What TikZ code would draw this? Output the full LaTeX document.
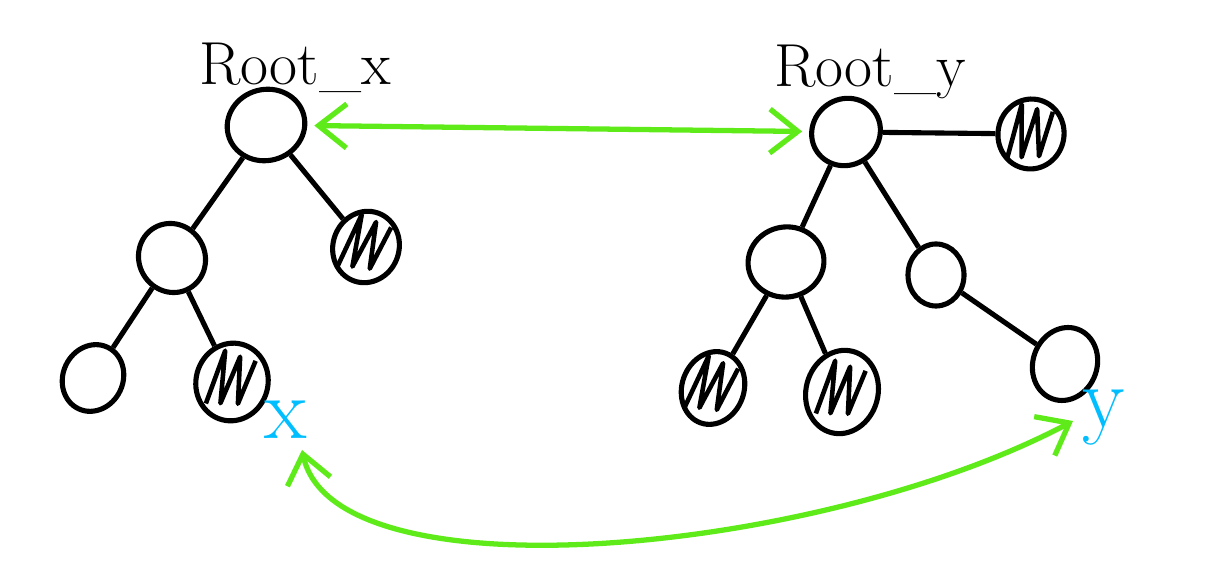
\documentclass[tikz,border=0pt]{standalone}
\usepackage{tikz}
\usetikzlibrary{calc,shapes.geometric,arrows.meta}
\definecolor{pengreen}{RGB}{95,235,25}
\definecolor{penblue}{RGB}{0,190,255}
\tikzset{
	knot/.style={draw, ellipse, line width=1.45pt, inner sep=0pt, minimum width=0.68cm, minimum height=0.68cm},
	scribble/.style={knot, path picture={
			\draw[line width=1.3pt, line join=round] ($(path picture bounding box.center)+(-0.19cm,-0.3cm)$) -- ++(0.05cm,0.56cm) -- ++(0.09cm,-0.52cm) -- ++(0.07cm,0.5cm) -- ++(0.1cm,-0.46cm) -- ++(0.06cm,0.46cm);}},
	branch/.style={line width=1.45pt},
	link/.style={color=pengreen, line width=1.5pt, line cap=round, {Straight Barb[length=2.8mm,width=4.4mm]}-{Straight Barb[length=2.8mm,width=4.4mm]}},
}

\begin{document}
\begin{tikzpicture}[x=0.01cm, y=-0.01cm]
			%%%%% START %%%%%
			\useasboundingbox (0,0) rectangle (1210,580);
			
			% left tree
			\node[knot, minimum width=0.78cm, minimum height=0.71cm, rotate=15] (rootx) at (266,125) {};
			\node[knot, minimum width=0.66cm, minimum height=0.7cm, rotate=30] (xmid) at (172,258) {};
			\node[knot, minimum width=0.6cm, minimum height=0.68cm, rotate=-25] (xll) at (93,378) {};
			\node[scribble, minimum width=0.72cm, minimum height=0.78cm, rotate=-15] (xlm) at (232,382) {};
			\node[scribble, minimum width=0.66cm, minimum height=0.72cm, rotate=-20] (xright) at (366,247) {};
			
			\node[font=\LARGE] (labrootx) at (295,68) {Root\_x};
			\node[font=\Huge, text=penblue] (labx) at (286,420) {x};
			
			\draw[branch] (rootx) -- (xmid);
			\draw[branch] (rootx) -- (xright);
			\draw[branch] (xmid) -- (xll);
			\draw[branch] (xmid) -- (xlm);
			
			% right tree
			\node[knot, minimum width=0.7cm, minimum height=0.66cm, rotate=35] (rooty) at (846,132) {};
			\node[scribble, minimum width=0.66cm, minimum height=0.7cm, rotate=-10] (yright) at (1031,134) {};
			\node[knot, minimum width=0.76cm, minimum height=0.7cm, rotate=10] (ymidl) at (786,262) {};
			\node[knot, minimum width=0.56cm, minimum height=0.62cm] (ymidr) at (936,275) {};
			\node[scribble, minimum width=0.62cm, minimum height=0.74cm, rotate=-20] (ybl) at (713,388) {};
			\node[scribble, minimum width=0.72cm, minimum height=0.84cm, rotate=-15] (ybm) at (842,392) {};
			\node[knot, minimum width=0.64cm, minimum height=0.74cm, rotate=-20] (yleaf) at (1065,364) {};
			
			\node[font=\LARGE] (labrooty) at (870,72) {Root\_y};
			\node[font=\Huge, text=penblue] (laby) at (1104,418) {y};
			
			\draw[branch] (rooty) -- (yright);
			\draw[branch] (rooty) -- (ymidl);
			\draw[branch] (rooty) -- (ymidr);
			\draw[branch] (ymidr) -- (yleaf);
			\draw[branch] (ymidl) -- (ybl);
			\draw[branch] (ymidl) -- (ybm);
			
			% links
			\coordinate (xtip) at (302,450);
			\coordinate (ytip) at (1073,421);
			\draw[link, shorten <=2pt, shorten >=2pt] (rootx) -- (rooty);
			\draw[link] (xtip) .. controls (335,600) and (820,555) .. (ytip);
			
			%%%%% END %%%%%
\end{tikzpicture}
\end{document}
